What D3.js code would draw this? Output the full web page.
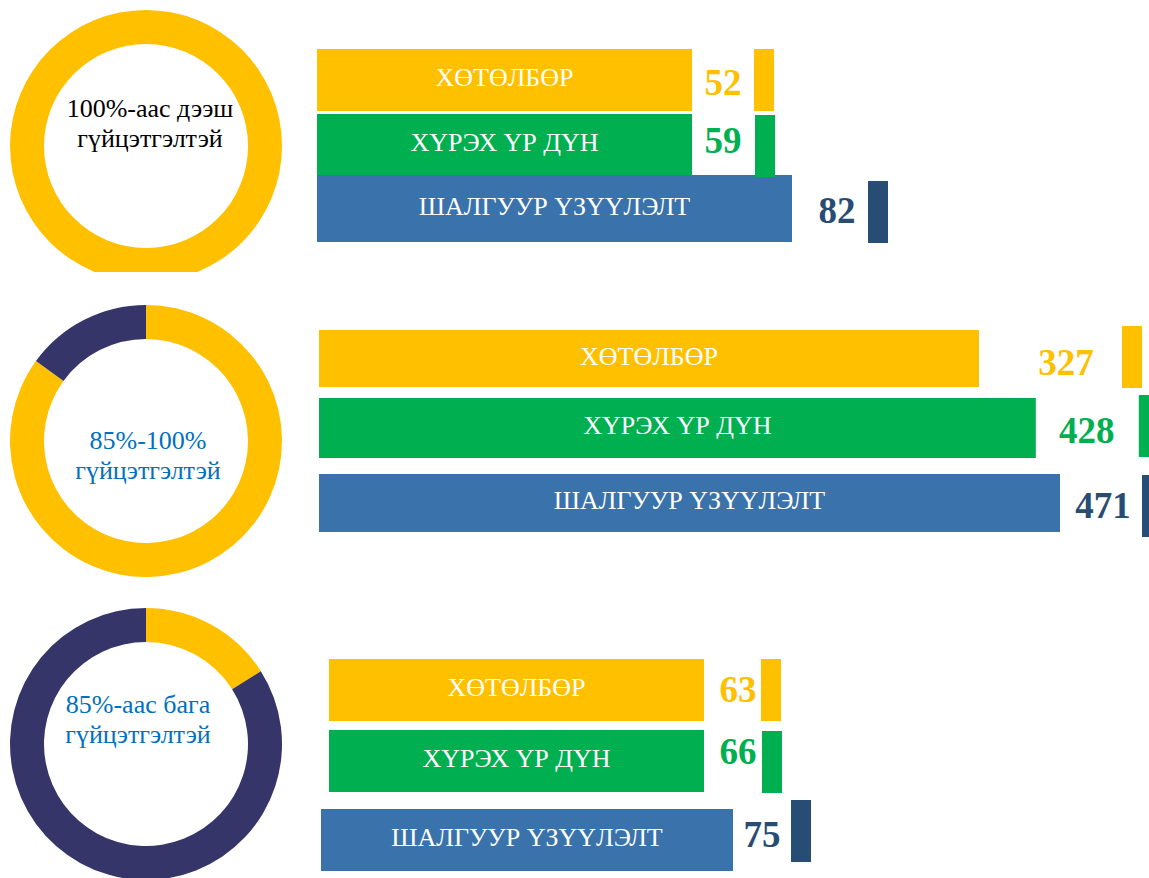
<!DOCTYPE html>
<html>
<head>
<meta charset="utf-8">
<script src="https://cdn.jsdelivr.net/npm/d3@7"></script>
<style>
  html, body { margin: 0; padding: 0; background: #fff; }
  svg { display: block; font-family: "Liberation Serif", "DejaVu Serif", "Times New Roman", serif; }
</style>
</head>
<body>
<svg id="chart" width="1149" height="878"></svg>
<script>
// --- data ---
const categories = ["ХӨТӨЛБӨР", "ХҮРЭХ ҮР ДҮН", "ШАЛГУУР ҮЗҮҮЛЭЛТ"];
const groupTitles = [
  ["100%-аас дээш", "гүйцэтгэлтэй"],
  ["85%-100%", "гүйцэтгэлтэй"],
  ["85%-аас бага", "гүйцэтгэлтэй"],
];
const groupValues = [
  [52, 59, 82],
  [327, 428, 471],
  [63, 66, 75],
];
// donut shares: [yellow, navy]
const donutShares = [
  [100, 0],
  [85, 15],
  [16, 84],
];

// --- look ---
const YELLOW = "#FFC000", GREEN = "#00B050", BLUE = "#3A73AB", DARK = "#284D75", NAVY = "#35356A";
const barColor = [YELLOW, GREEN, BLUE];
const labelColor = [YELLOW, GREEN, DARK];
const stubColor = [YELLOW, GREEN, DARK];
const titleColor = ["#000", "#0070C0", "#0070C0"];

// layout per group (positions only)
const LAYOUT = [
  { cx: 146, cy: 146, clipBottom: 272, tx: 150, ty: 117,
    x0: [317, 317, 317], top: [49, 114, 175], h: [62, 61, 67], stubTop: [49, 115, 181],
    domLo: 59, wRange: [375, 475], stubGap: [62, 63, 76], labelGap: [31, 31, 45], labelDy: [15, 8, 14] },
  { cx: 146, cy: 441, clipBottom: 878, tx: 148, ty: 449,
    x0: [319, 319, 319], top: [330, 398, 474], h: [57, 60, 58], stubTop: [326, 395, 475],
    domLo: 327, wRange: [660, 741], stubGap: [143, 103, 82], labelGap: [87, 51, 43], labelDy: [16, 15, 15] },
  { cx: 146, cy: 744, clipBottom: 878, tx: 138, ty: 713,
    x0: [329, 329, 321], top: [659, 730, 809], h: [62, 62, 62], stubTop: [659, 731, 800],
    domLo: 66, wRange: [375, 412], stubGap: [57, 58, 58], labelGap: [34, 34, 29], labelDy: [12, 3, 7] },
];

const svg = d3.select("#chart");
const defs = svg.append("defs");

const pie = d3.pie().sort(null).value((d) => d);
const arc = d3.arc().innerRadius(102).outerRadius(136);
const donutColor = [YELLOW, NAVY];

groupValues.forEach((vals, gi) => {
  const L = LAYOUT[gi];

  // ---------- donut ----------
  defs.append("clipPath").attr("id", `clip${gi}`)
    .append("rect").attr("x", 0).attr("y", 0).attr("width", 400).attr("height", L.clipBottom);

  const dg = svg.append("g").attr("clip-path", `url(#clip${gi})`)
    .append("g").attr("transform", `translate(${L.cx},${L.cy})`);
  dg.selectAll("path")
    .data(pie(donutShares[gi]).filter((d) => d.value > 0))
    .join("path")
    .attr("d", arc)
    .attr("fill", (d) => donutColor[d.index]);

  svg.append("text")
    .attr("x", L.tx)
    .attr("y", L.ty)
    .attr("text-anchor", "middle")
    .attr("font-size", 26)
    .attr("fill", titleColor[gi])
    .selectAll("tspan")
    .data(groupTitles[gi])
    .join("tspan")
    .attr("x", L.tx)
    .attr("dy", (d, i) => (i === 0 ? 0 : 30))
    .text((d) => d);

  // ---------- bars ----------
  const w = d3.scaleLinear()
    .domain([L.domLo, d3.max(vals)])
    .range(L.wRange)
    .clamp(true);

  const rows = vals.map((v, i) => ({ v, i, cat: categories[i] }));
  const bg = svg.append("g");

  bg.selectAll("rect.bar")
    .data(rows)
    .join("rect")
    .attr("class", "bar")
    .attr("x", (d) => L.x0[d.i])
    .attr("y", (d) => L.top[d.i])
    .attr("width", (d) => w(d.v))
    .attr("height", (d) => L.h[d.i])
    .attr("fill", (d) => barColor[d.i]);

  bg.selectAll("text.cat")
    .data(rows)
    .join("text")
    .attr("class", "cat")
    .attr("x", (d) => L.x0[d.i] + w(d.v) / 2)
    .attr("y", (d) => L.top[d.i] + L.h[d.i] / 2 + 6)
    .attr("text-anchor", "middle")
    .attr("font-size", 26)
    .attr("fill", "#fff")
    .text((d) => d.cat);

  bg.selectAll("rect.stub")
    .data(rows)
    .join("rect")
    .attr("class", "stub")
    .attr("x", (d) => L.x0[d.i] + w(d.v) + L.stubGap[d.i])
    .attr("y", (d) => L.stubTop[d.i])
    .attr("width", 20)
    .attr("height", 62)
    .attr("fill", (d) => stubColor[d.i]);

  bg.selectAll("text.val")
    .data(rows)
    .join("text")
    .attr("class", "val")
    .attr("x", (d) => L.x0[d.i] + w(d.v) + L.labelGap[d.i])
    .attr("y", (d) => L.top[d.i] + L.h[d.i] / 2 + L.labelDy[d.i])
    .attr("text-anchor", "middle")
    .attr("font-size", 37)
    .attr("font-weight", "bold")
    .attr("fill", (d) => labelColor[d.i])
    .text((d) => d.v);
});
</script>
</body>
</html>
